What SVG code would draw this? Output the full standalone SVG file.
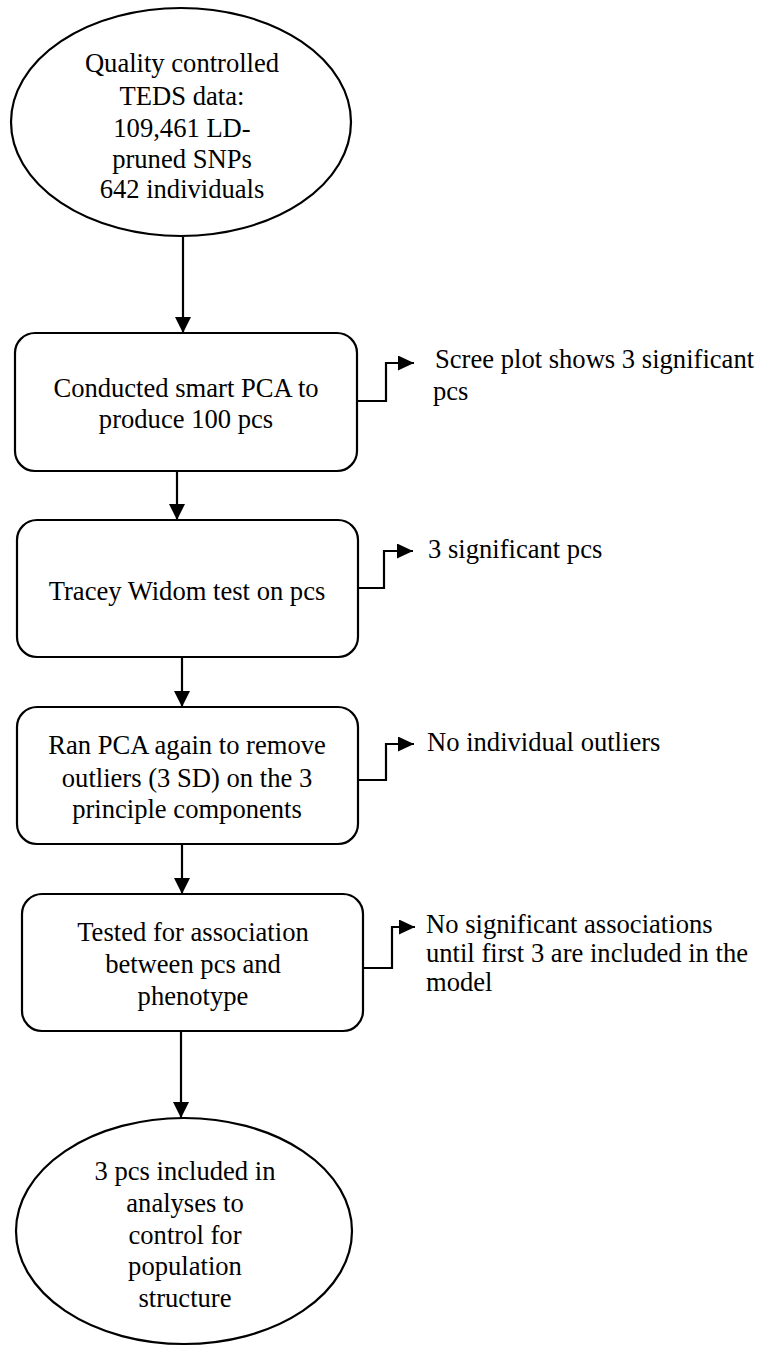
<svg xmlns="http://www.w3.org/2000/svg" width="759" height="1346" viewBox="0 0 759 1346">
  <style>
    .shape { fill: #ffffff; stroke: #000000; stroke-width: 2.2; }
    .edge { fill: none; stroke: #000000; stroke-width: 2.2; }
    .mid { text-anchor: middle; }
  </style>
  <defs>
    <marker id="arrowDown" markerUnits="userSpaceOnUse" markerWidth="16" markerHeight="16" refX="16" refY="8" orient="auto">
      <path d="M0,0 L16,8 L0,16 Z" fill="#000000"/>
    </marker>
    <marker id="arrowSide" markerUnits="userSpaceOnUse" markerWidth="16" markerHeight="15" refX="16" refY="7.5" orient="auto">
      <path d="M0,0 L16,7.5 L0,15 Z" fill="#000000"/>
    </marker>
  </defs>

  <g id="connectors">
    <line class="edge" x1="183" y1="237" x2="183" y2="333" marker-end="url(#arrowDown)"/>
    <line class="edge" x1="177" y1="471" x2="177" y2="520" marker-end="url(#arrowDown)"/>
    <line class="edge" x1="182" y1="657" x2="182" y2="707" marker-end="url(#arrowDown)"/>
    <line class="edge" x1="182" y1="844" x2="182" y2="894" marker-end="url(#arrowDown)"/>
    <line class="edge" x1="181" y1="1031" x2="181" y2="1118" marker-end="url(#arrowDown)"/>
    <path class="edge" d="M357,401 H386 V363 H414" marker-end="url(#arrowSide)"/>
    <path class="edge" d="M358,588 H384 V551 H413" marker-end="url(#arrowSide)"/>
    <path class="edge" d="M358,780 H386 V744 H414" marker-end="url(#arrowSide)"/>
    <path class="edge" d="M363,968 H392 V927 H415" marker-end="url(#arrowSide)"/>
  </g>

  <g font-family="Liberation Serif" font-size="26.6" fill="#000000">
    <g id="start">
      <ellipse class="shape" cx="181" cy="122" rx="170" ry="114"/>
      <text class="mid" x="182" y="72">Quality controlled</text>
      <text class="mid" x="182" y="105">TEDS data:</text>
      <text class="mid" x="182" y="137">109,461 LD-</text>
      <text class="mid" x="182" y="168">pruned SNPs</text>
      <text class="mid" x="182" y="198">642 individuals</text>
    </g>

    <g id="smart-pca">
      <rect class="shape" x="15" y="333" width="342" height="138" rx="20" ry="20"/>
      <text class="mid" x="186" y="397">Conducted smart PCA to</text>
      <text class="mid" x="186" y="428">produce 100 pcs</text>
    </g>

    <g id="tracy-widom">
      <rect class="shape" x="17" y="520" width="341" height="137" rx="20" ry="20"/>
      <text class="mid" x="187" y="600">Tracey Widom test on pcs</text>
    </g>

    <g id="outlier-removal">
      <rect class="shape" x="17" y="707" width="341" height="137" rx="20" ry="20"/>
      <text class="mid" x="187" y="754">Ran PCA again to remove</text>
      <text class="mid" x="187" y="787">outliers (3 SD) on the 3</text>
      <text class="mid" x="187" y="818">principle components</text>
    </g>

    <g id="association-test">
      <rect class="shape" x="22" y="894" width="341" height="137" rx="20" ry="20"/>
      <text class="mid" x="193" y="941">Tested for association</text>
      <text class="mid" x="193" y="973">between pcs and</text>
      <text class="mid" x="193" y="1005">phenotype</text>
    </g>

    <g id="end">
      <ellipse class="shape" cx="184" cy="1231" rx="168" ry="113"/>
      <text class="mid" x="185" y="1180">3 pcs included in</text>
      <text class="mid" x="185" y="1212">analyses to</text>
      <text class="mid" x="185" y="1244">control for</text>
      <text class="mid" x="185" y="1275">population</text>
      <text class="mid" x="185" y="1307">structure</text>
    </g>

    <g id="note-scree">
      <text x="435" y="368">Scree plot shows 3 significant</text>
      <text x="433" y="400">pcs</text>
    </g>

    <g id="note-tw">
      <text x="428" y="558">3 significant pcs</text>
    </g>

    <g id="note-outliers">
      <text x="427" y="751">No individual outliers</text>
    </g>

    <g id="note-association">
      <text x="426" y="933">No significant associations</text>
      <text x="426" y="962">until first 3 are included in the</text>
      <text x="426" y="991">model</text>
    </g>
  </g>
</svg>
